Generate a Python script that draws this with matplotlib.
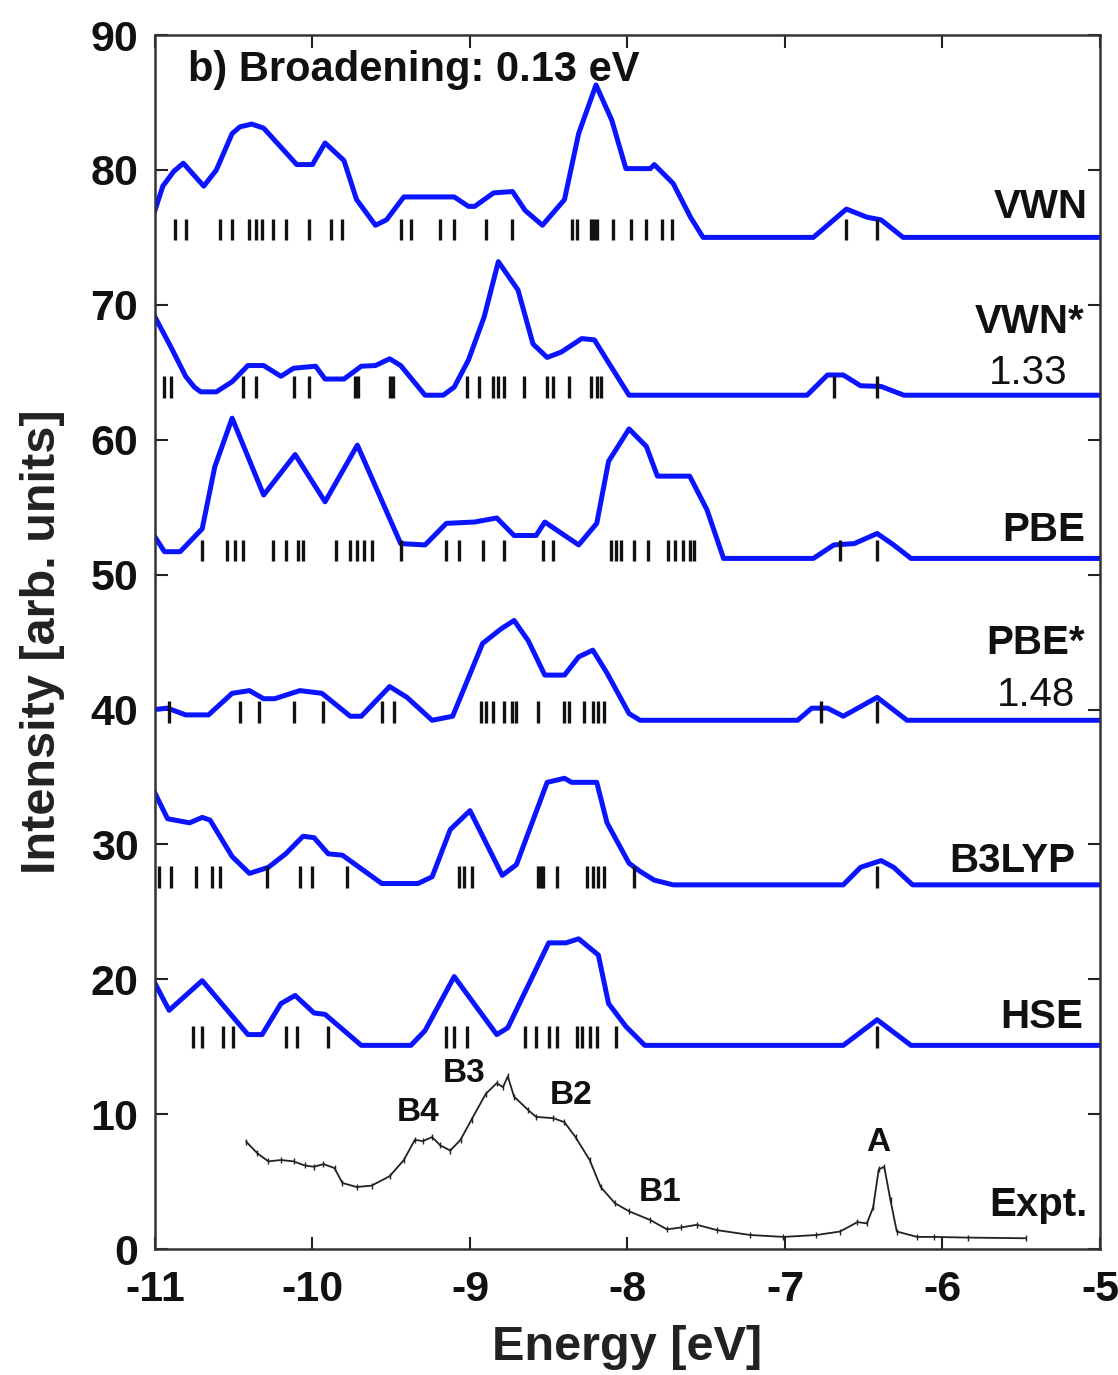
import matplotlib
matplotlib.use("Agg")
import matplotlib.pyplot as plt
import numpy as np

plt.rcParams['font.family'] = ['Liberation Sans', 'DejaVu Sans']
plt.rcParams['axes.unicode_minus'] = False

# ---------------- data ----------------
vwn_e = [-11.0, -10.95, -10.88, -10.82, -10.69, -10.61, -10.51, -10.46, -10.385, -10.31, -10.10, -10.0,
         -9.92, -9.80, -9.72, -9.60, -9.53, -9.42, -9.10, -9.01, -8.97, -8.85, -8.73, -8.65, -8.54,
         -8.40, -8.31, -8.20, -8.10, -8.01, -7.855, -7.83, -7.71, -7.60, -7.52, -6.82, -6.61,
         -6.48, -6.39, -6.25, -5.0]
vwn_i = [77.0, 78.8, 79.9, 80.5, 78.8, 80.0, 82.7, 83.2, 83.4, 83.1, 80.4, 80.4,
         82.0, 80.7, 77.8, 75.9, 76.3, 78.0, 78.0, 77.3, 77.3, 78.3, 78.4, 77.0, 75.9,
         77.8, 82.7, 86.3, 83.7, 80.1, 80.1, 80.4, 79.0, 76.5, 75.0, 75.0, 77.1,
         76.5, 76.3, 75.0, 75.0]
vwn_sticks = [-10.87, -10.805, -10.59, -10.51, -10.40, -10.36, -10.32, -10.25, -10.17, -10.02,
              -9.885, -9.81, -9.44, -9.375, -9.19, -9.10, -8.90, -8.73, -8.355, -8.32, -8.23,
              -8.215, -8.195, -8.09, -7.98, -7.88, -7.78, -7.72, -6.61, -6.415]

vwns_e = [-11.0, -10.90, -10.805, -10.75, -10.71, -10.61, -10.51, -10.41, -10.31, -10.20, -10.12,
          -9.98, -9.92, -9.80, -9.69, -9.60, -9.51, -9.44, -9.285, -9.17, -9.10, -9.01, -8.91,
          -8.82, -8.695, -8.60, -8.51, -8.42, -8.29, -8.21, -8.13, -7.99, -6.86, -6.73, -6.63,
          -6.52, -6.39, -6.245, -5.0]
vwns_i = [69.1, 66.9, 64.7, 63.9, 63.55, 63.55, 64.3, 65.5, 65.5, 64.7, 65.3,
          65.45, 64.5, 64.5, 65.45, 65.5, 66.0, 65.5, 63.3, 63.3, 63.9, 65.9, 69.1,
          73.2, 71.1, 67.1, 66.1, 66.5, 67.5, 67.4, 65.9, 63.3, 63.3, 64.8, 64.8,
          64.0, 63.95, 63.3, 63.3]
vwns_sticks = [-10.94, -10.90, -10.44, -10.36, -10.12, -10.02, -9.73, -9.71, -9.51, -9.49,
               -9.02, -8.94, -8.855, -8.82, -8.785, -8.66, -8.51, -8.47, -8.37, -8.23, -8.195,
               -8.17, -6.69, -6.415]

pbe_e = [-11.0, -10.94, -10.84, -10.70, -10.62, -10.51, -10.31, -10.11, -9.92, -9.715, -9.44,
         -9.285, -9.15, -8.97, -8.83, -8.72, -8.58, -8.525, -8.31, -8.195, -8.12, -7.99, -7.88,
         -7.81, -7.605, -7.495, -7.39, -6.82, -6.69, -6.56, -6.415, -6.31, -6.20, -5.0]
pbe_i = [52.8, 51.7, 51.7, 53.4, 58.0, 61.6, 55.9, 58.9, 55.4, 59.6, 52.3,
         52.2, 53.8, 53.9, 54.2, 52.9, 52.9, 53.9, 52.2, 53.8, 58.4, 60.8, 59.5,
         57.3, 57.3, 54.8, 51.2, 51.2, 52.2, 52.3, 53.05, 52.2, 51.2, 51.2]
pbe_sticks = [-10.70, -10.54, -10.49, -10.44, -10.25, -10.17, -10.09, -10.06, -9.85, -9.76,
              -9.715, -9.67, -9.62, -9.44, -9.15, -9.07, -8.92, -8.785, -8.535, -8.47, -8.105,
              -8.07, -8.04, -7.96, -7.87, -7.74, -7.70, -7.65, -7.60, -7.58, -6.65, -6.415]

pbes_e = [-11.0, -10.92, -10.805, -10.66, -10.51, -10.40, -10.31, -10.24, -10.08, -9.94, -9.76,
          -9.69, -9.51, -9.40, -9.24, -9.11, -8.92, -8.80, -8.72, -8.63, -8.525, -8.40, -8.31,
          -8.22, -8.13, -7.99, -7.92, -6.92, -6.83, -6.73, -6.63, -6.415, -6.225, -5.0]
pbes_i = [40.0, 40.1, 39.6, 39.6, 41.2, 41.4, 40.8, 40.8, 41.4, 41.2, 39.5,
          39.5, 41.7, 40.9, 39.2, 39.5, 44.9, 46.0, 46.6, 45.1, 42.55, 42.55, 43.9,
          44.4, 42.7, 39.7, 39.2, 39.2, 40.1, 40.1, 39.5, 40.9, 39.2, 39.2]
pbes_sticks = [-10.91, -10.46, -10.34, -10.12, -9.93, -9.56, -9.48, -8.93, -8.90, -8.855,
               -8.785, -8.73, -8.705, -8.57, -8.40, -8.37, -8.275, -8.22, -8.185, -8.15,
               -6.77, -6.415]

b3_e = [-11.0, -10.92, -10.78, -10.70, -10.65, -10.51, -10.40, -10.28, -10.17, -10.06, -9.99,
        -9.90, -9.81, -9.56, -9.33, -9.24, -9.125, -9.00, -8.795, -8.705, -8.51, -8.40,
        -8.355, -8.195, -8.13, -7.99, -7.92, -7.83, -7.71, -6.63, -6.52, -6.39, -6.31, -6.19, -5.0]
b3_i = [33.8, 31.9, 31.6, 32.0, 31.8, 29.1, 27.85, 28.3, 29.3, 30.6, 30.5,
        29.3, 29.2, 27.1, 27.1, 27.6, 31.1, 32.5, 27.7, 28.5, 34.6, 34.9,
        34.6, 34.6, 31.6, 28.6, 28.0, 27.35, 27.0, 27.0, 28.3, 28.8, 28.3, 27.0, 27.0]
b3_sticks = [-10.975, -10.90, -10.74, -10.635, -10.59, -10.29, -10.08, -10.0, -9.78,
             -9.07, -9.035, -8.99, -8.57, -8.55, -8.535, -8.445, -8.26, -8.22, -8.185, -8.15,
             -7.96, -6.415]

hse_e = [-11.0, -10.91, -10.70, -10.41, -10.32, -10.20, -10.11, -9.99, -9.92, -9.69, -9.375,
         -9.285, -9.10, -8.83, -8.76, -8.50, -8.39, -8.31, -8.185, -8.12, -8.01, -7.89,
         -6.63, -6.415, -6.20, -5.0]
hse_i = [19.7, 17.7, 19.9, 15.9, 15.9, 18.2, 18.8, 17.5, 17.4, 15.1, 15.1,
         16.2, 20.2, 15.9, 16.4, 22.7, 22.7, 23.0, 21.8, 18.2, 16.5, 15.1,
         15.1, 17.0, 15.1, 15.1]
hse_sticks = [-10.76, -10.70, -10.57, -10.505, -10.17, -10.10, -9.90, -9.15, -9.10, -9.02,
              -8.65, -8.58, -8.50, -8.445, -8.32, -8.29, -8.24, -8.195, -8.07, -6.415]

expt_e = [-10.42, -10.35, -10.28, -10.20, -10.12, -10.05, -9.99, -9.93, -9.86, -9.81, -9.72,
          -9.625, -9.51, -9.42, -9.35, -9.30, -9.24, -9.19, -9.125, -9.06, -8.99, -8.90, -8.83,
          -8.79, -8.76, -8.72, -8.63, -8.58, -8.47, -8.40, -8.33, -8.24, -8.17, -8.08, -7.99,
          -7.855, -7.75, -7.66, -7.56, -7.43, -7.22, -7.01, -6.80, -6.65, -6.54, -6.48, -6.44,
          -6.405, -6.37, -6.33, -6.29, -6.16, -6.055, -5.84, -5.47]
expt_i = [7.95, 7.1, 6.5, 6.6, 6.5, 6.2, 6.1, 6.3, 6.0, 4.9, 4.6,
          4.7, 5.4, 6.6, 8.1, 8.0, 8.3, 7.7, 7.3, 8.1, 9.6, 11.5, 12.3,
          12.0, 12.8, 11.3, 10.3, 9.8, 9.7, 9.4, 8.3, 6.6, 4.6, 3.4, 2.8,
          2.15, 1.46, 1.6, 1.8, 1.4, 1.04, 0.9, 1.04, 1.3, 2.0, 1.9, 3.1,
          5.9, 6.1, 3.6, 1.3, 0.9, 0.9, 0.85, 0.8]

series_e = [vwn_e, vwns_e, pbe_e, pbes_e, b3_e, hse_e]
series_i = [vwn_i, vwns_i, pbe_i, pbes_i, b3_i, hse_i]
series_sticks = [vwn_sticks, vwns_sticks, pbe_sticks, pbes_sticks, b3_sticks, hse_sticks]
baselines = [75.0, 63.3, 51.2, 39.2, 27.0, 15.1]
series_labels = ["VWN", "VWN*", "PBE", "PBE*", "B3LYP", "HSE"]
peak_labels = ["B4", "B3", "B2", "B1", "A"]
peak_pos = [(-9.33, 10.1), (-9.04, 13.0), (-8.36, 11.4), (-7.79, 4.2), (-6.41, 7.9)]

x_ticks = [-11, -10, -9, -8, -7, -6, -5]
y_ticks = [0, 10, 20, 30, 40, 50, 60, 70, 80, 90]

# ---------------- plot ----------------
fig = plt.figure(figsize=(11.18, 13.75), dpi=100)
ax = fig.add_axes([0.1386, 0.0916, 0.8453, 0.8829])

blue = '#0a14ff'
for e, i, st, b in zip(series_e, series_i, series_sticks, baselines):
    ax.plot(e, i, color=blue, lw=3.6, solid_joinstyle='round')
    ax.vlines(st, b - 0.2, b + 1.4, color='#111111', lw=2.4)

ax.plot(expt_e, expt_i, color='#222222', lw=1.3)
ax.plot(expt_e, expt_i, ls='none', marker='|', ms=5, mew=1.0, color='#222222')

ax.set_xlim(-11, -5)
ax.set_ylim(0, 90)
ax.set_xticks(x_ticks)
ax.set_yticks(y_ticks)
ax.tick_params(direction='in', length=9, width=1.5, top=True, right=True,
               labelsize=31, pad=12, colors='#222222')
ax.tick_params(axis='x', pad=15)
for lab in ax.get_xticklabels() + ax.get_yticklabels():
    lab.set_fontweight('bold')
    lab.set_color('#111111')
for sp in ax.spines.values():
    sp.set_linewidth(1.8)
    sp.set_color('#333333')

ax.set_xlabel("Energy [eV]", fontsize=35, fontweight='bold', labelpad=11, color='#222222')
ax.set_ylabel("Intensity [arb. units]", fontsize=35, fontweight='bold', labelpad=18, color='#222222')

ax.text(0.035, 0.971, "b) Broadening: 0.13 eV", transform=ax.transAxes, fontsize=30,
        fontweight='bold', ha='left', va='center', color='#111111')

lab_kw = dict(transform=ax.transAxes, fontsize=29, fontweight='bold', ha='right', va='center',
              color='#111111')
num_kw = dict(transform=ax.transAxes, fontsize=29, ha='right', va='center', color='#111111')
ax.text(0.987, 0.858, series_labels[0], **lab_kw)
ax.text(0.984, 0.764, series_labels[1], **lab_kw)
ax.text(0.966, 0.722, "1.33", **num_kw)
ax.text(0.984, 0.592, series_labels[2], **lab_kw)
ax.text(0.984, 0.499, series_labels[3], **lab_kw)
ax.text(0.974, 0.456, "1.48", **num_kw)
ax.text(0.974, 0.320, series_labels[4], **lab_kw)
ax.text(0.982, 0.191, series_labels[5], **lab_kw)
ax.text(0.987, 0.036, "Expt.", **lab_kw)

for name, (px, py) in zip(peak_labels, peak_pos):
    ax.text(px, py, name, fontsize=24, fontweight='bold', ha='center', va='center', color='#111111')

fig.savefig("out.png", dpi=100)
